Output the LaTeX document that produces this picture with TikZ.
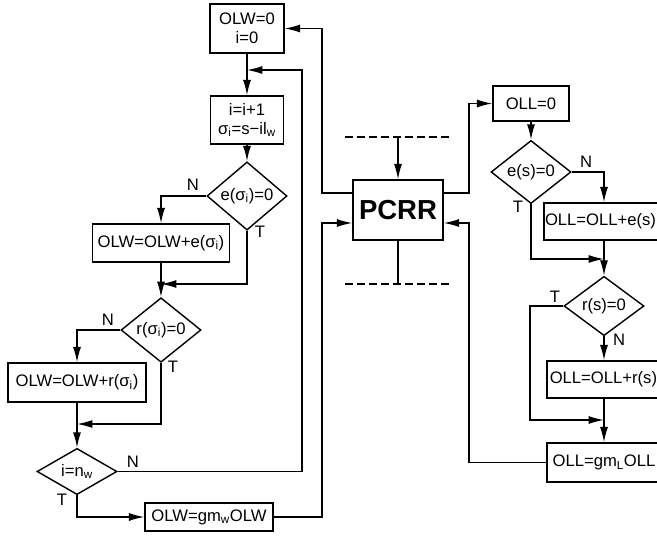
\documentclass[tikz,border=0pt]{standalone}
\usepackage{fontspec}
\setmainfont{Liberation Sans}
\usetikzlibrary{arrows.meta,shapes.geometric}

\begin{document}
\begin{tikzpicture}[
  x=0.03cm, y=-0.03cm,
  font={\fontsize{14.2}{16}\selectfont},
  line width=1.2pt,
  box/.style={rectangle, draw, inner sep=1pt, align=center},
  test/.style={diamond, draw, inner sep=0pt, minimum width=2.4cm, minimum height=1.35cm},
  lbl/.style={inner sep=0pt},
  arr/.style={-{Latex[length=4.6mm,width=2.4mm]}},
  sep/.style={dash pattern={on 6.8pt off 3.4pt}}
]
\useasboundingbox (0,0) rectangle (657,541);
\clip (0,0) rectangle (657,541);

% left branch (W)
\node[box, minimum width=2.22cm, minimum height=1.47cm] (init) at (247,28.5) {OLW=0\\i=0};
\node[box, minimum width=2.19cm, minimum height=1.44cm] (incr) at (247,120) {i=i+1\\σ\textsubscript{i}=s−il\textsubscript{w}};
\node[test] (eW) at (247,196) {e(σ\textsubscript{i})=0};
\node[box, minimum width=4.11cm, minimum height=1.14cm] (addE) at (161,243) {OLW=OLW+e(σ\textsubscript{i})};
\node[test] (rW) at (161,330) {r(σ\textsubscript{i})=0};
\node[box, minimum width=4.14cm, minimum height=1.17cm] (addR) at (77,382.5) {OLW=OLW+r(σ\textsubscript{i})};
\node[test] (nW) at (77,471.5) {i=n\textsubscript{w}};
\node[box, minimum width=3.84cm, minimum height=0.84cm] (gmW) at (209,517) {OLW=gm\textsubscript{w}OLW};

% centre
\node[box, minimum width=2.7cm, minimum height=1.8cm, font={\fontsize{23.5}{26}\selectfont\bfseries}] (pcrr) at (398,210) {PCRR};

% right branch (L)
\node[box, minimum width=2.28cm, minimum height=1.05cm] (oll0) at (531,103.5) {OLL=0};
\node[test] (eL) at (531,172) {e(s)=0};
\node[box, minimum width=3.54cm, minimum height=1.11cm] (addEL) at (604,221.5) {OLL=OLL+e(s)\hspace*{6pt}};
\node[test] (rL) at (604,306) {r(s)=0};
\node[box, minimum width=3.42cm, minimum height=1.11cm] (addRL) at (604,379.5) {OLL=OLL+r(s)\hspace*{1pt}};
\node[box, minimum width=3.42cm, minimum height=1.17cm] (gmL) at (604,462.5) {OLL=gm\textsubscript{L}OLL};

% branch labels
\node[lbl] (eWn) at (193,185) {N};
\node[lbl] (eWt) at (260,232) {T};
\node[lbl] (rWn) at (108,320) {N};
\node[lbl] (rWt) at (173,367) {T};
\node[lbl] (nWn) at (133,462) {N};
\node[lbl] (nWt) at (62,500) {T};
\node[lbl] (eLn) at (586,162) {N};
\node[lbl] (eLt) at (518,207) {T};
\node[lbl] (rLt) at (555,297) {T};
\node[lbl] (rLn) at (619,340) {N};

% corners and joins
\coordinate (m0) at (247,70);
\coordinate (loopc) at (302,70);
\coordinate (m1) at (161,284);
\coordinate (m2) at (77,424);
\coordinate (c3) at (322,193);
\coordinate (c4) at (322,223);
\coordinate (c5) at (469,193);
\coordinate (c7) at (469,223);
\coordinate (m3) at (604,259);
\coordinate (c6) at (530,420);
\coordinate (m4) at (604,420);
\coordinate (dtl) at (345,137);
\coordinate (dtr) at (452,137);
\coordinate (dbl) at (345,284);
\coordinate (dbr) at (452,284);

% W connectors
\draw[arr] (init) -- (incr);
\draw[arr] (nW.east) -| (loopc) -- (m0);
\draw[arr] (incr) -- (eW);
\draw[arr] (eW.west) -| (addE.north);
\draw[arr] (eW.south) |- (m1);
\draw[arr] (addE) -- (rW);
\draw[arr] (rW.west) -| (addR.north);
\draw[arr] (rW.south) |- (m2);
\draw[arr] (addR) -- (nW);
\draw[arr] (nW.south) |- (gmW.west);
\draw[arr] (gmW.east) -| (c4) -- (c4 -| pcrr.west);
\draw[arr] (c3 -| pcrr.west) -- (c3) |- (init.east);

% PCRR in and out
\draw[sep] (dtl) -- (dtr);
\draw[arr] (dtl -| pcrr.north) -- (pcrr.north);
\draw (pcrr.south) -- (dbl -| pcrr.south);
\draw[sep] (dbl) -- (dbr);

% L connectors
\draw[arr] (c5 -| pcrr.east) -- (c5) |- (oll0.west);
\draw[arr] (oll0) -- (eL);
\draw[arr] (eL.east) -| (addEL.north);
\draw[arr] (eL.south) |- (m3);
\draw[arr] (addEL) -- (rL);
\draw[arr] (rL.west) -| (c6) -- (m4);
\draw[arr] (rL) -- (addRL);
\draw[arr] (addRL) -- (gmL);
\draw[arr] (gmL.west) -| (c7) -- (c7 -| pcrr.east);
\end{tikzpicture}
\end{document}
